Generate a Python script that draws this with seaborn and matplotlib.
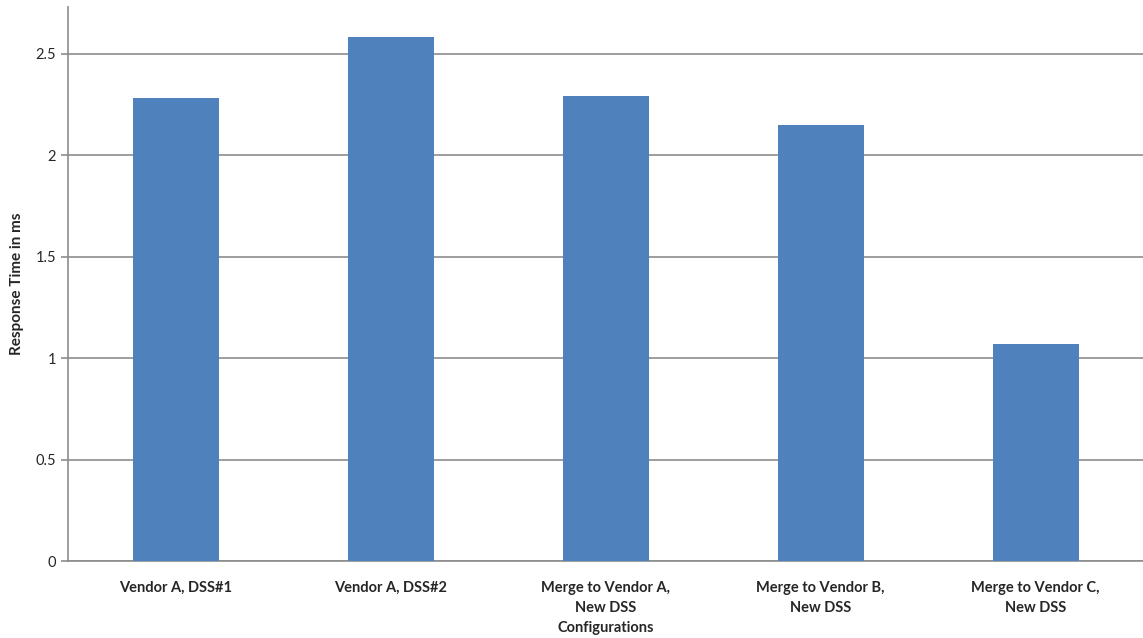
import pandas as pd
import seaborn as sns
import matplotlib.pyplot as plt
from matplotlib.ticker import FixedLocator

configurazioni = ["Vendor A, DSS#1", "Vendor A, DSS#2", "Merge to Vendor A,\nNew DSS",
                  "Merge to Vendor B,\nNew DSS", "Merge to Vendor C,\nNew DSS"]
tempi_risposta = [2.28, 2.58, 2.29, 2.15, 1.07]

df = pd.DataFrame({"Configurazione": configurazioni, "Tempo": tempi_risposta})

sns.set_style("white")
plt.rcParams["font.family"] = ["Lato", "DejaVu Sans"]

fig = plt.figure(figsize=(11.43, 6.38), dpi=100)
ax = fig.add_axes([0.0595, 0.12, 0.9405, 0.869])

sns.barplot(data=df, x="Configurazione", y="Tempo", color="#4F81BD",
            saturation=1, width=0.4, linewidth=0, ax=ax, zorder=3)

ax.set_xlim(-0.5, 4.5)
ax.set_ylim(0, 2.73)
ax.set_yticks([0, 0.5, 1, 1.5, 2, 2.5])
ax.set_yticklabels(["0", "0.5", "1", "1.5", "2", "2.5"], fontsize=10.5)
ax.yaxis.grid(True, color="#8c8c8c", linewidth=1.2, zorder=0)
ax.set_axisbelow(True)

# tick sui bordi delle categorie, etichette al centro
ax.tick_params(axis="x", which="major", length=0, pad=14)
ax.xaxis.set_minor_locator(FixedLocator([-0.5, 0.5, 1.5, 2.5, 3.5, 4.5]))
ax.tick_params(axis="x", which="minor", length=5, color="#8c8c8c", width=1.2, direction="out")
ax.tick_params(axis="y", length=5, color="#8c8c8c", width=1.2, direction="out", left=True)
for lab in ax.get_xticklabels():
    lab.set_fontweight("bold")
    lab.set_fontsize(10.5)
    lab.set_linespacing(1.6)

for s in ["top", "right"]:
    ax.spines[s].set_visible(False)
for s in ["left", "bottom"]:
    ax.spines[s].set_color("#8c8c8c")
    ax.spines[s].set_linewidth(1.2)

ax.set_xlabel("Configurations", fontsize=10.5, fontweight="bold", labelpad=4)
ax.set_ylabel("Response Time in ms", fontsize=11, fontweight="bold")
ax.yaxis.set_label_coords(-0.041, 0.5)

plt.savefig("out.png", dpi=100)
